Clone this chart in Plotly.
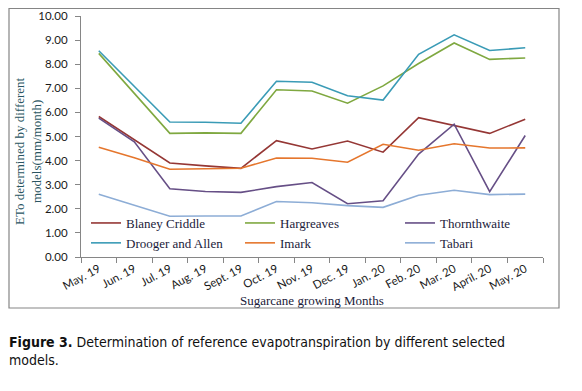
import plotly.graph_objects as go

months = ["May. 19", "Jun. 19", "Jul. 19", "Aug. 19", "Sept. 19", "Oct. 19", "Nov. 19",
          "Dec. 19", "Jan. 20", "Feb. 20", "Mar. 20", "April. 20", "May. 20"]

blaney_criddle = [5.83, 4.85, 3.90, 3.78, 3.68, 4.83, 4.48, 4.81, 4.35, 5.78, 5.44, 5.13, 5.72]
hargreaves = [8.45, 6.79, 5.13, 5.15, 5.13, 6.94, 6.89, 6.38, 7.10, 8.03, 8.88, 8.20, 8.26]
thornthwaite = [5.76, 4.78, 2.83, 2.72, 2.68, 2.92, 3.09, 2.21, 2.33, 4.27, 5.51, 2.71, 5.04]
drooger_allen = [8.56, 7.08, 5.60, 5.59, 5.55, 7.29, 7.25, 6.69, 6.51, 8.41, 9.22, 8.57, 8.68]
imark = [4.55, 4.12, 3.64, 3.67, 3.68, 4.11, 4.10, 3.93, 4.68, 4.43, 4.70, 4.52, 4.53]
tabari = [2.60, 2.15, 1.69, 1.70, 1.70, 2.30, 2.25, 2.13, 2.06, 2.56, 2.77, 2.59, 2.61]

y_ticks = [0, 1, 2, 3, 4, 5, 6, 7, 8, 9, 10]

series = [
    ("Blaney Criddle", blaney_criddle, "#953735", "legend"),
    ("Hargreaves", hargreaves, "#7FA840", "legend2"),
    ("Thornthwaite", thornthwaite, "#664F86", "legend3"),
    ("Drooger and Allen", drooger_allen, "#3A9BB6", "legend"),
    ("Imark", imark, "#E5762D", "legend2"),
    ("Tabari", tabari, "#8DADD6", "legend3"),
]

# page offset (default body margin of the html page)
OFF = 8
W, H = 582 - 2 * OFF, 391 - 2 * OFF


def fx(p):
    """screen pixel x -> paper fraction (margins are zero)"""
    return (p - OFF) / W


def fy(p):
    """screen pixel y -> paper fraction"""
    return 1 - (p - OFF) / H


# plot area and outer chart frame in screen pixels
L, R, T, B = 81, 543, 16, 257
FL, FR, FT, FB = 9, 559, 8.5, 308

fig = go.Figure()
for name, vals, color, lg in series:
    fig.add_trace(go.Scatter(x=months, y=vals, mode="lines", name=name,
                             line=dict(color=color, width=1.6), legend=lg))

serif = "Liberation Serif, Times New Roman, serif"
textc = "#1b1b3a"
legend_common = dict(font=dict(family=serif, size=13, color=textc), bgcolor="rgba(0,0,0,0)",
                     borderwidth=0, orientation="v", xanchor="left", yanchor="top",
                     tracegroupgap=0, itemwidth=30)

tickfont = dict(family="Lato, Liberation Sans, sans-serif", size=11.5, color="#1a1a1a")

fig.update_layout(
    width=W, height=H,
    margin=dict(l=0, r=0, t=0, b=0, pad=0),
    paper_bgcolor="white", plot_bgcolor="rgba(0,0,0,0)",
    showlegend=True,
    legend=dict(x=fx(86), y=fy(208), **legend_common),
    legend2=dict(x=fx(240), y=fy(208), **legend_common),
    legend3=dict(x=fx(400), y=fy(208), **legend_common),
    xaxis=dict(type="category", range=[-0.5, 12.5], domain=[fx(L), fx(R)], anchor="y",
               tickson="boundaries", ticks="outside",
               ticklen=5, tickcolor="#868686", showline=True, linecolor="#868686", linewidth=1,
               showgrid=False, zeroline=False, tickangle=-28, automargin=False,
               tickfont=tickfont),
    yaxis=dict(range=[0, 10], domain=[fy(B), fy(T)], anchor="x", tickvals=y_ticks,
               tickformat=".2f", ticks="outside", ticklen=5,
               tickcolor="#868686", showline=True, linecolor="#868686", linewidth=1,
               showgrid=False, zeroline=False, ticklabelstandoff=5, automargin=False,
               tickfont=tickfont),
)

# outer chart frame
fig.add_shape(type="rect", xref="paper", yref="paper",
              x0=fx(FL), x1=fx(FR), y0=fy(FB), y1=fy(FT),
              line=dict(color="#858585", width=1.2))

# axis titles
fig.add_annotation(xref="paper", yref="paper", x=fx(312), y=fy(300), text="Sugarcane growing Months",
                   showarrow=False, font=dict(family=serif, size=13, color=textc),
                   xanchor="center", yanchor="middle")
fig.add_annotation(xref="paper", yref="paper", x=fx(28), y=fy(151),
                   text="ETo determined by different<br>models(mm/month)", textangle=-90,
                   showarrow=False, font=dict(family=serif, size=13, color="#2A5562"),
                   xanchor="center", yanchor="middle", align="center")

# caption
cap = ('<span style="font-stretch:condensed"><b>Figure 3.</b> Determination of reference '
       'evapotranspiration by different selected</span><br>'
       '<span style="font-stretch:condensed">models.</span>')
fig.add_annotation(xref="paper", yref="paper", x=fx(7), y=fy(332), text=cap,
                   showarrow=False, align="left", xanchor="left", yanchor="top",
                   font=dict(family="DejaVu Sans Condensed, DejaVu Sans, sans-serif",
                             size=14, color="#111111"))

fig.write_html("out.html")
